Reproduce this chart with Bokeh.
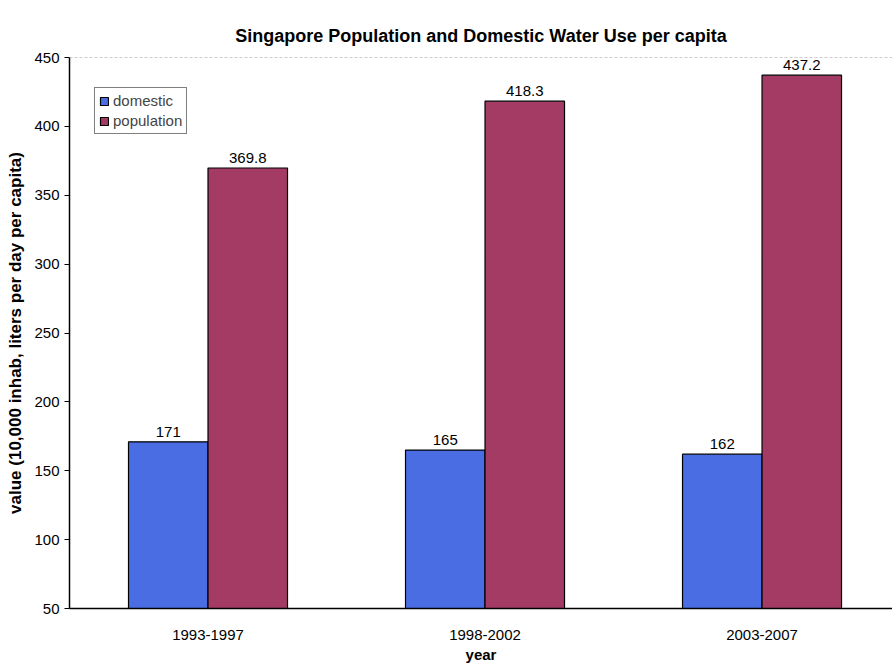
from bokeh.plotting import figure
from bokeh.models import (ColumnDataSource, Range1d, FixedTicker, Span, Legend,
                          LegendItem)
from bokeh.core.properties import value
from bokeh.embed import file_html
from bokeh.resources import INLINE

# --- data ---
periods = ["1993-1997", "1998-2002", "2003-2007"]
domestic = [171, 165, 162]
population = [369.8, 418.3, 437.2]
y_ticks = [50, 100, 150, 200, 250, 300, 350, 400, 450]

FONT = "Liberation Sans"
BLUE = "#4b6de4"
MAROON = "#a33b65"

centers = [i + 0.5 for i in range(len(periods))]
bar_w = 0.287
dom_x = [c - bar_w / 2 for c in centers]
pop_x = [c + bar_w / 2 for c in centers]

dom_src = ColumnDataSource(dict(x=dom_x, top=domestic,
                                label=[f"{v:g}" for v in domestic]))
pop_src = ColumnDataSource(dict(x=pop_x, top=population,
                                label=[f"{v:.1f}" for v in population]))

p = figure(width=892, height=665, output_backend="svg", toolbar_location=None,
           x_range=Range1d(0, 2.971), y_range=Range1d(50, 450),
           min_border_left=69, min_border_right=0, min_border_top=57,
           min_border_bottom=57)
p.outline_line_color = None
p.background_fill_color = "white"
p.border_fill_color = "white"
p.grid.visible = False

p.title.text = "Singapore Population and Domestic Water Use per capita"
p.title.text_font = FONT
p.title.text_font_size = "18px"
p.title.text_font_style = "bold"
p.title.text_color = "black"
p.title.align = "center"
p.title.offset = 0
p.title.standoff = 24

# bars
r_dom = p.vbar(x="x", top="top", bottom=50, width=bar_w, source=dom_src,
               fill_color=BLUE, line_color="black", line_width=1.2)
r_pop = p.vbar(x="x", top="top", bottom=50, width=bar_w, source=pop_src,
               fill_color=MAROON, line_color="black", line_width=1.2)

# value labels above bars
for src in (dom_src, pop_src):
    p.text(x="x", y="top", text="label", source=src, text_align="center",
           text_baseline="bottom", y_offset=-5, text_font=value(FONT),
           text_font_size="15px", text_color="black")

# top boundary line
p.add_layout(Span(location=450, dimension="width", line_color="#999999",
                  line_dash="3 2", line_width=1))

# axes
p.xaxis.ticker = FixedTicker(ticks=centers)
p.xaxis.major_label_overrides = {c: lab for c, lab in zip(centers, periods)}
p.xaxis.major_tick_line_color = None
p.xaxis.minor_tick_line_color = None
p.xaxis.axis_line_color = "black"
p.xaxis.axis_line_width = 1.5
p.xaxis.major_label_standoff = 15
p.xaxis.axis_label = "year"
p.xaxis.axis_label_standoff = 3

p.yaxis.ticker = FixedTicker(ticks=y_ticks)
p.yaxis.minor_tick_line_color = None
p.yaxis.major_tick_in = 0
p.yaxis.major_tick_out = 5
p.yaxis.axis_line_color = "black"
p.yaxis.axis_line_width = 1.5
p.yaxis.major_label_standoff = 5
p.yaxis.axis_label = "value (10,000 inhab, liters per day per capita)"
p.yaxis.axis_label_standoff = 6

for ax in (p.xaxis[0], p.yaxis[0]):
    ax.major_label_text_font = FONT
    ax.major_label_text_font_size = "15px"
    ax.major_label_text_color = "black"
    ax.axis_label_text_font = FONT
    ax.axis_label_text_font_style = "bold"
    ax.axis_label_text_color = "black"
p.xaxis.axis_label_text_font_size = "15px"
p.yaxis.axis_label_text_font_size = "17px"

legend = Legend(items=[LegendItem(label="domestic", renderers=[r_dom]),
                       LegendItem(label="population", renderers=[r_pop])],
                location=(25, 474), orientation="vertical")
legend.label_text_font = FONT
legend.label_text_font_size = "15px"
legend.glyph_width = 10
legend.glyph_height = 10
legend.label_standoff = 4
legend.label_height = 17
legend.spacing = 3
legend.padding = 4
legend.margin = 0
legend.border_line_color = "black"
legend.border_line_width = 1
legend.background_fill_alpha = 1
p.add_layout(legend)

open("out.html", "w").write(file_html(p, INLINE))
